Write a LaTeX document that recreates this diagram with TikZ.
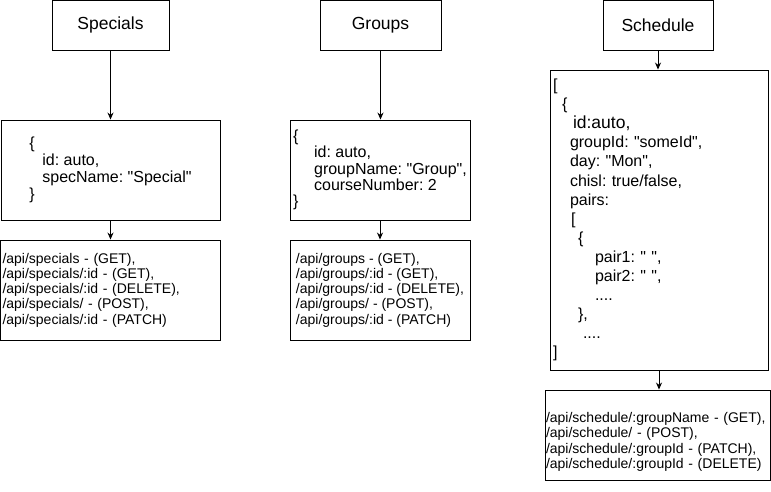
\documentclass[tikz,border=0pt]{standalone}
\usepackage{fontspec}
\newfontfamily\arial{Liberation Sans}
\usetikzlibrary{arrows.meta,positioning}

\begin{document}
\frenchspacing
\begin{tikzpicture}[x=1pt, y=-1pt, line width=0.9pt,
  head/.style={draw, minimum height=50pt, inner sep=0pt, font=\arial\fontsize{17.5}{21}\selectfont},
  doc/.style={draw, align=left, inner sep=2pt, font=\arial\fontsize{16}{17}\selectfont},
  api/.style={draw, align=left, inner sep=2pt, font=\arial\fontsize{14}{15.3}\selectfont},
  link/.style={-{Stealth[length=7pt, width=6pt]}}]
\useasboundingbox (0,0) rectangle (771,491);
% entity titles
\node[head, minimum width=117pt] (specials) at (110.5,25) {Specials};
\node[head, minimum width=121pt] (groups) at (380.5,25) {Groups};
\node[head, minimum width=110pt] (schedule) at (658,25) {Schedule};
% json bodies
\node[doc, minimum width=219pt, minimum height=100pt] (specdoc) at (110.5,170)
  {\{\\\hspace*{13pt}id: auto,\\\hspace*{13pt}specName: "Special"\\\}};
\node[doc, minimum width=180pt, minimum height=100pt, font=\arial\fontsize{16}{16.3}\selectfont] (groupdoc) at (380,170)
  {\{\\\hspace*{21pt}id: auto,\\\hspace*{21pt}groupName: "Group",\\\hspace*{21pt}courseNumber: 2\\\}};
\node[doc, text width=212pt, minimum height=300pt, inner xsep=3pt, font=\arial\fontsize{16}{19.07}\selectfont] (scheddoc) at (659,220)
  {[\\
   \hspace*{9pt}\{\\
   \hspace*{20pt}{\fontsize{17.5}{19.07}\selectfont id:auto,}\\
   \hspace*{17pt}groupId: "someId",\\
   \hspace*{17pt}day: "Mon",\\
   \hspace*{17pt}chisl: true/false,\\
   \hspace*{17pt}pairs:\\
   \hspace*{18pt}[\\
   \hspace*{25pt}\{\\
   \hspace*{42pt}pair1: " ",\\
   \hspace*{42pt}pair2: " ",\\
   \hspace*{42pt}....\\
   \hspace*{25pt}\},\\
   \hspace*{30pt}....\\
   ]};
% endpoints
\node[api, text width=216pt, minimum height=100pt] (specapi) at (110.5,290)
  {/api/specials - (GET),\\/api/specials/:id - (GET),\\/api/specials/:id - (DELETE),\\/api/specials/ - (POST),\\/api/specials/:id - (PATCH)};
\node[api, minimum width=180pt, minimum height=100pt] (groupapi) at (380,290)
  {/api/groups - (GET),\\/api/groups/:id - (GET),\\/api/groups/:id - (DELETE),\\/api/groups/ - (POST),\\/api/groups/:id - (PATCH)};
\node[api, text width=223pt, minimum height=90pt, inner xsep=1pt] (schedapi) at (657.5,435)
  {\strut\\[-2pt]/api/schedule/:groupName - (GET),\\/api/schedule/ - (POST),\\/api/schedule/:groupId - (PATCH),\\/api/schedule/:groupId - (DELETE)};
% arrows
\draw[link] (specials.south) -- (specials.south |- specdoc.north);
\draw[link] (specdoc.south) -- (specdoc.south |- specapi.north);
\draw[link] (groups.south) -- (groups.south |- groupdoc.north);
\draw[link] (groupdoc.south) -- (groupdoc.south |- groupapi.north);
\draw[link] (schedule.south) -- (schedule.south |- scheddoc.north);
\draw[link] (scheddoc.south) -- (scheddoc.south |- schedapi.north);
\end{tikzpicture}
\end{document}
